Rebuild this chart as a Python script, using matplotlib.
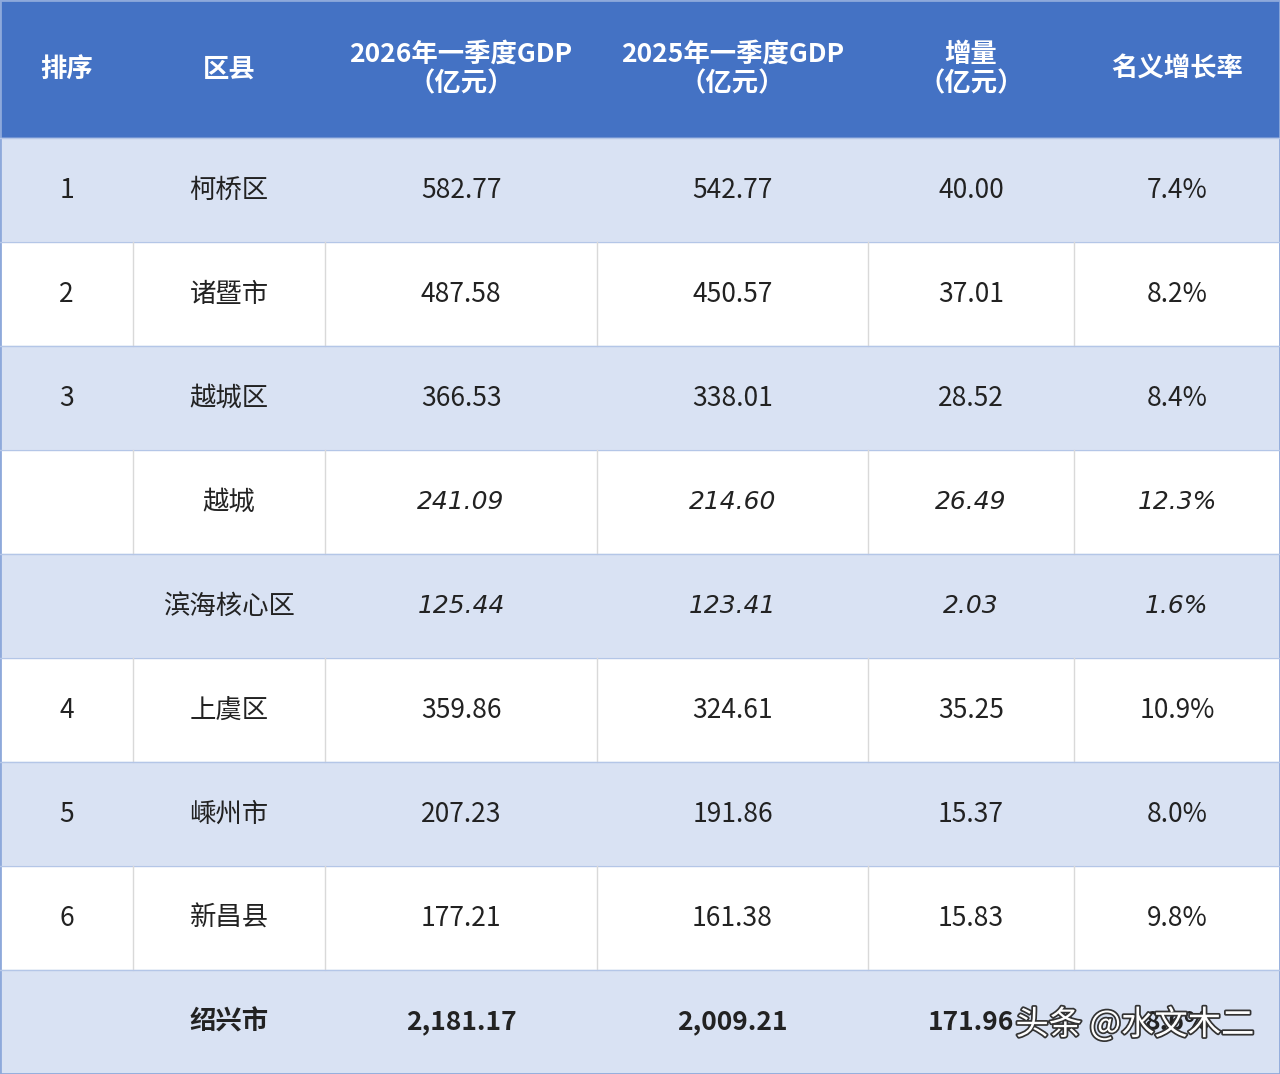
import matplotlib
matplotlib.use("Agg")
import matplotlib.pyplot as plt
import matplotlib.patheffects as pe
from matplotlib.patches import Rectangle

plt.rcParams['font.family'] = ['Noto Sans CJK SC', 'DejaVu Sans']

HEADERS = ["排序", "区县", "2026年一季度GDP\n（亿元）", "2025年一季度GDP\n（亿元）", "增量\n（亿元）", "名义增长率"]
RANKS = ["1", "2", "3", "", "", "4", "5", "6", ""]
NAMES = ["柯桥区", "诸暨市", "越城区", "越城", "滨海核心区", "上虞区", "嵊州市", "新昌县", "绍兴市"]
GDP_2026 = ["582.77", "487.58", "366.53", "241.09", "125.44", "359.86", "207.23", "177.21", "2,181.17"]
GDP_2025 = ["542.77", "450.57", "338.01", "214.60", "123.41", "324.61", "191.86", "161.38", "2,009.21"]
DELTA = ["40.00", "37.01", "28.52", "26.49", "2.03", "35.25", "15.37", "15.83", "171.96"]
GROWTH = ["7.4%", "8.2%", "8.4%", "12.3%", "1.6%", "10.9%", "8.0%", "9.8%", "8.6%"]
ITALIC = [False, False, False, True, True, False, False, False, False]

COL_EDGES = [0, 133, 325, 597, 868, 1074, 1280]
HEADER_H = 138
ROW_H = 104
HEAD_BLUE = "#4472C4"
LIGHT = "#D9E2F3"

fig = plt.figure(figsize=(12.8, 10.74), dpi=100)
ax = fig.add_axes([0, 0, 1, 1])
ax.set_xlim(0, 1280)
ax.set_ylim(1074, 0)
ax.axis("off")

# header
ax.add_patch(Rectangle((0, 0), 1280, HEADER_H, color=HEAD_BLUE))
for j, h in enumerate(HEADERS):
    cx = (COL_EDGES[j] + COL_EDGES[j + 1]) / 2
    ax.text(cx, HEADER_H / 2, h, ha="center", va="center", color="white",
            fontsize=19, fontweight="bold", linespacing=1.1)

# body rows
for i in range(len(NAMES)):
    y0 = HEADER_H + i * ROW_H
    light = i % 2 == 0
    ax.add_patch(Rectangle((0, y0), 1280, ROW_H, color=LIGHT if light else "white"))
    ax.plot([0, 1280], [y0, y0], color="#B4C6E7", lw=1)
    if not light:
        for x in COL_EDGES[1:-1]:
            ax.plot([x, x], [y0, y0 + ROW_H], color="#D9D9D9", lw=1)
    total = i == len(NAMES) - 1
    row = [RANKS[i], NAMES[i], GDP_2026[i], GDP_2025[i], DELTA[i], GROWTH[i]]
    for j, val in enumerate(row):
        cx = (COL_EDGES[j] + COL_EDGES[j + 1]) / 2
        kw = {}
        if ITALIC[i] and j >= 2:
            kw = dict(family=["DejaVu Sans"], fontstyle="italic", fontsize=18)
        ax.text(cx, y0 + ROW_H / 2, val, ha="center", va="center",
                color="#222222", fontweight="bold" if total else "normal",
                **{"fontsize": 19, **kw})

ax.add_patch(Rectangle((0, 0), 1280, 1074, fill=False, edgecolor="#8EA9DB", lw=2))

# watermark
ax.text(1135, 1025, "头条 @水文木二", ha="center", va="center", fontsize=24,
        color="white", path_effects=[pe.withStroke(linewidth=2.5, foreground="#333333")])

fig.savefig("out.png", dpi=100)
